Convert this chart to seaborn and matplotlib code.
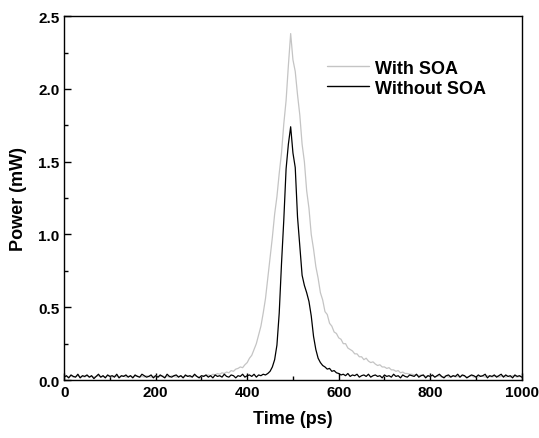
#!/usr/bin/env python3
import numpy as np
import pandas as pd
import seaborn as sns
import matplotlib
matplotlib.use("Agg")
import matplotlib.pyplot as plt
from matplotlib.ticker import MultipleLocator

# time axis: 0..1000 ps, 5 ps steps
time_ps = np.arange(0, 1001, 5)

# output power without SOA (mW)
power_without = [
    0.02, 0.03, 0.015, 0.035, 0.025, 0.02, 0.04, 0.015, 0.03, 0.025,
    0.035, 0.02, 0.03, 0.01, 0.025, 0.04, 0.02, 0.03, 0.015, 0.035,
    0.025, 0.03, 0.02, 0.04, 0.015, 0.03, 0.025, 0.035, 0.02, 0.03,
    0.015, 0.035, 0.025, 0.02, 0.04, 0.03, 0.02, 0.025, 0.035, 0.015,
    0.03, 0.02, 0.035, 0.025, 0.015, 0.04, 0.025, 0.02, 0.03, 0.035,
    0.02, 0.03, 0.015, 0.035, 0.025, 0.03, 0.02, 0.04, 0.025, 0.015,
    0.03, 0.025, 0.035, 0.02, 0.03, 0.015, 0.035, 0.025, 0.03, 0.02,
    0.04, 0.025, 0.02, 0.035, 0.03, 0.015, 0.03, 0.025, 0.04, 0.02,
    0.03, 0.035, 0.025, 0.04, 0.02, 0.035, 0.03, 0.04, 0.035, 0.045,
    0.06, 0.09, 0.14, 0.24, 0.46, 0.80, 1.10, 1.45, 1.62, 1.74,
    1.56, 1.46, 1.12, 0.92, 0.72, 0.65, 0.60, 0.54, 0.44, 0.30,
    0.21, 0.15, 0.12, 0.10, 0.09, 0.075, 0.08, 0.06, 0.065, 0.05,
    0.045, 0.035, 0.04, 0.03, 0.045, 0.025, 0.035, 0.03, 0.04, 0.02,
    0.03, 0.035, 0.025, 0.04, 0.02, 0.03, 0.035, 0.025, 0.03, 0.015,
    0.035, 0.025, 0.03, 0.02, 0.04, 0.025, 0.03, 0.015, 0.035, 0.025,
    0.02, 0.035, 0.03, 0.025, 0.04, 0.02, 0.03, 0.035, 0.015, 0.03,
    0.025, 0.035, 0.02, 0.03, 0.04, 0.025, 0.015, 0.03, 0.035, 0.02,
    0.03, 0.025, 0.04, 0.02, 0.035, 0.03, 0.015, 0.025, 0.035, 0.03,
    0.02, 0.035, 0.025, 0.03, 0.04, 0.015, 0.03, 0.025, 0.035, 0.02,
    0.03, 0.04, 0.02, 0.035, 0.025, 0.03, 0.015, 0.035, 0.025, 0.03,
    0.02,
]

# output power with SOA (mW)
power_with = [
    0.02, 0.025, 0.02, 0.03, 0.02, 0.025, 0.03, 0.02, 0.025, 0.02,
    0.03, 0.02, 0.025, 0.02, 0.025, 0.03, 0.02, 0.025, 0.02, 0.03,
    0.025, 0.02, 0.03, 0.025, 0.02, 0.025, 0.03, 0.02, 0.025, 0.03,
    0.02, 0.025, 0.03, 0.02, 0.025, 0.02, 0.03, 0.025, 0.02, 0.025,
    0.03, 0.02, 0.025, 0.03, 0.02, 0.025, 0.02, 0.03, 0.025, 0.02,
    0.025, 0.03, 0.02, 0.025, 0.03, 0.02, 0.025, 0.03, 0.025, 0.02,
    0.025, 0.03, 0.03, 0.035, 0.03, 0.04, 0.035, 0.045, 0.04, 0.05,
    0.045, 0.055, 0.05, 0.065, 0.06, 0.075, 0.08, 0.09, 0.085, 0.105,
    0.12, 0.15, 0.17, 0.21, 0.25, 0.31, 0.37, 0.46, 0.56, 0.70,
    0.84, 0.98, 1.14, 1.26, 1.42, 1.56, 1.76, 1.92, 2.16, 2.38,
    2.20, 2.12, 1.96, 1.82, 1.62, 1.50, 1.30, 1.18, 1.00, 0.90,
    0.78, 0.70, 0.60, 0.55, 0.47, 0.45, 0.39, 0.37, 0.33, 0.32,
    0.29, 0.28, 0.25, 0.25, 0.22, 0.21, 0.20, 0.18, 0.18, 0.16,
    0.16, 0.14, 0.15, 0.13, 0.12, 0.125, 0.11, 0.10, 0.105, 0.09,
    0.09, 0.08, 0.085, 0.07, 0.07, 0.06, 0.065, 0.05, 0.055, 0.045,
    0.045, 0.04, 0.04, 0.035, 0.035, 0.03, 0.035, 0.03, 0.025, 0.03,
    0.025, 0.03, 0.02, 0.025, 0.03, 0.02, 0.025, 0.03, 0.02, 0.025,
    0.03, 0.02, 0.025, 0.02, 0.03, 0.025, 0.02, 0.025, 0.03, 0.02,
    0.025, 0.02, 0.03, 0.025, 0.02, 0.03, 0.025, 0.02, 0.025, 0.03,
    0.02, 0.025, 0.03, 0.02, 0.025, 0.02, 0.03, 0.025, 0.02, 0.025,
    0.025,
]

series_labels = ["With SOA", "Without SOA"]


def main():
    sns.set_style("ticks")
    plt.rcParams["font.family"] = ["Liberation Sans", "DejaVu Sans"]
    plt.rcParams["font.weight"] = "bold"
    plt.rcParams["text.color"] = "black"
    plt.rcParams["axes.labelcolor"] = "black"
    plt.rcParams["xtick.color"] = "black"
    plt.rcParams["ytick.color"] = "black"

    fig = plt.figure(figsize=(5.39, 4.39), dpi=100)
    ax = fig.add_axes([0.119, 0.132, 0.849, 0.829])

    sns.lineplot(x=time_ps, y=power_with, ax=ax, color="#c4c4c4",
                 lw=0.9, label=series_labels[0])
    sns.lineplot(x=time_ps, y=power_without, ax=ax, color="black",
                 lw=0.9, label=series_labels[1])

    ax.set_xlim(0, 1000)
    ax.set_ylim(0, 2.5)
    ax.xaxis.set_major_locator(MultipleLocator(200))
    ax.xaxis.set_minor_locator(MultipleLocator(100))
    ax.yaxis.set_major_locator(MultipleLocator(0.5))
    ax.yaxis.set_minor_locator(MultipleLocator(0.25))
    ax.yaxis.set_major_formatter(matplotlib.ticker.FormatStrFormatter("%.1f"))
    ax.tick_params(which="both", direction="in", top=False, right=False,
                   labelsize=11, color="black", labelcolor="black")
    ax.tick_params(which="major", length=5, width=1)
    ax.tick_params(which="minor", length=3, width=1)
    for lab in ax.get_xticklabels() + ax.get_yticklabels():
        lab.set_fontweight("bold")
    for s in ax.spines.values():
        s.set_visible(True)
        s.set_color("black")
        s.set_linewidth(1)

    ax.set_xlabel("Time (ps)", fontsize=13, fontweight="bold", labelpad=8,
                  color="black")
    ax.set_ylabel("Power (mW)", fontsize=13, fontweight="bold", labelpad=8,
                  color="black")

    leg = ax.legend(loc="upper left", bbox_to_anchor=(0.575, 0.88),
                    frameon=False, borderpad=0, borderaxespad=0,
                    handlelength=2.3, handletextpad=0.35, labelspacing=0.15,
                    prop={"size": 13, "weight": "bold"})
    for line in leg.get_lines():
        line.set_linewidth(1.0)
    for txt in leg.get_texts():
        txt.set_color("black")

    fig.savefig("out.png", dpi=100)


if __name__ == "__main__":
    main()
